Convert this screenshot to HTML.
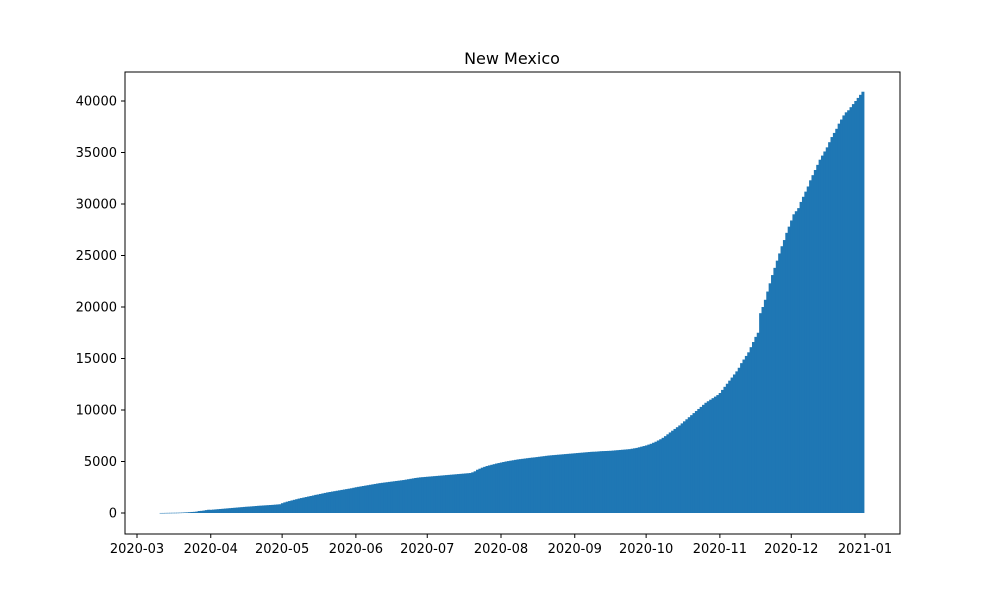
<!DOCTYPE html>
<html><head><meta charset="utf-8"><style>
body{margin:0;background:#fff;font-family:"Liberation Sans","DejaVu Sans",sans-serif}
svg text{font-family:"DejaVu Sans","Liberation Sans",sans-serif}
</style></head><body>
<svg id="chart" width="1000" height="600" xmlns="http://www.w3.org/2000/svg">
<text x="512" y="64" text-anchor="middle" font-size="16">New Mexico</text>
<g id="bars"></g>
<rect x="125" y="72" width="775" height="462" fill="none" stroke="#000" stroke-width="1"/>
<g id="xt"></g>
<g id="yt"></g>
</svg>
<script>
const startDate = "2020-03-11";
const values = [
3,4,10,13,17,21,23,28,35,43,57,65,83,100,112,136,191,208,237,281,315,
310,330,350,370,390,410,430,450,470,490,510,530,550,570,590,610,625,640,660,680,700,715,730,745,760,775,790,810,830,850,
950,1030,1100,1160,1220,1280,1340,1400,1450,1500,1550,1600,1650,1700,1760,1800,1850,1900,1950,2000,2040,2080,2120,2160,2200,2240,2280,2320,2360,2400,2450,
2500,2540,2580,2620,2660,2700,2740,2780,2820,2860,2900,2930,2960,2990,3020,3050,3080,3110,3140,3170,3200,3240,3280,3320,3360,3400,3430,3460,3480,3500,
3520,3540,3560,3580,3600,3620,3640,3660,3680,3700,3720,3740,3760,3780,3800,3820,3840,3860,3880,3950,4050,4200,4300,4400,4480,4560,4620,4680,4740,4800,4850,
4900,4950,5000,5040,5080,5120,5160,5200,5230,5260,5290,5320,5350,5380,5400,5430,5460,5490,5520,5550,5580,5600,5620,5640,5660,5680,5700,5720,5740,5760,5780,
5800,5820,5840,5860,5880,5900,5920,5940,5950,5960,5980,6000,6010,6020,6030,6040,6060,6080,6100,6120,6140,6160,6180,6200,6240,6280,6320,6380,6440,6500,
6560,6640,6720,6820,6920,7040,7160,7300,7460,7640,7820,7990,8160,8330,8500,8700,8900,9100,9300,9500,9700,9900,10100,10300,10500,10700,10850,11000,11150,11300,11450,
11650,11950,12250,12550,12850,13150,13450,13750,14100,14550,14900,15250,15600,16100,16600,17100,17500,19400,20000,20700,21500,22300,23100,23800,24500,25200,25900,26500,27200,27800,
28400,29000,29300,29600,30200,30700,31200,31700,32300,32800,33300,33800,34300,34700,35100,35500,36000,36500,36900,37300,37800,38200,38600,38900,39100,39400,39700,40000,40300,40600,40900
];
const xTickLabels = ["2020-03","2020-04","2020-05","2020-06","2020-07","2020-08","2020-09","2020-10","2020-11","2020-12","2021-01"];
const yTickValues = [0,5000,10000,15000,20000,25000,30000,35000,40000];

const NS="http://www.w3.org/2000/svg";
const DAY=86400000;
const t0=Date.parse("2020-03-01"), t1=Date.parse("2021-01-01");
const xPos=t=>137+(t-t0)/(t1-t0)*728;
const yPos=v=>513-v*(412/40000);
const pxDay=728/((t1-t0)/DAY);
const bars=document.getElementById('bars');
const s=Date.parse(startDate);
values.forEach((v,i)=>{
  const r=document.createElementNS(NS,'rect');
  const cx=xPos(s+i*DAY);
  r.setAttribute('x',cx-pxDay*0.5);
  r.setAttribute('width',pxDay+0.6);
  r.setAttribute('y',yPos(v));
  r.setAttribute('height',Math.max(0.5,yPos(0)-yPos(v)));
  r.setAttribute('fill','#1f77b4');
  
  
  bars.appendChild(r);
});
const xt=document.getElementById('xt');
xTickLabels.forEach(l=>{
  const x=xPos(Date.parse(l+"-01"));
  const ln=document.createElementNS(NS,'line');
  ln.setAttribute('x1',x);ln.setAttribute('x2',x);ln.setAttribute('y1',534);ln.setAttribute('y2',538);ln.setAttribute('stroke','#000');
  
  
  xt.appendChild(ln);
  const tx=document.createElementNS(NS,'text');
  tx.setAttribute('x',x);tx.setAttribute('y',553);tx.setAttribute('text-anchor','middle');tx.setAttribute('font-size','13');
  tx.textContent=l;
  
  
  xt.appendChild(tx);
});
const yt=document.getElementById('yt');
yTickValues.forEach(v=>{
  const y=yPos(v);
  const ln=document.createElementNS(NS,'line');
  ln.setAttribute('x1',121);ln.setAttribute('x2',125);ln.setAttribute('y1',y);ln.setAttribute('y2',y);ln.setAttribute('stroke','#000');
  
  
  yt.appendChild(ln);
  const tx=document.createElementNS(NS,'text');
  tx.setAttribute('x',117);tx.setAttribute('y',y+4.5);tx.setAttribute('text-anchor','end');tx.setAttribute('font-size','13');
  tx.textContent=v;
  
  
  yt.appendChild(tx);
});
</script>
</body></html>
